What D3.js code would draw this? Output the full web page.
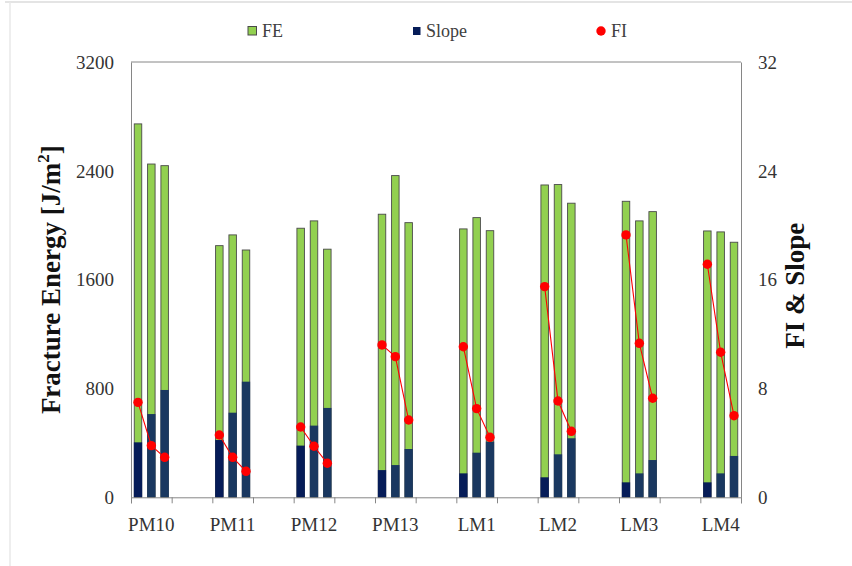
<!DOCTYPE html>
<html>
<head>
<meta charset="utf-8">
<script src="https://cdn.jsdelivr.net/npm/d3@7/dist/d3.min.js"></script>
<style>
  html, body { margin: 0; padding: 0; background: #fff; }
  svg { display: block; }
  svg text { font-family: "Liberation Serif", "DejaVu Serif", serif !important; }
</style>
</head>
<body>
<svg id="chart" width="852" height="566"></svg>
<script>
// ---- data ----
const categories = ["PM10", "PM11", "PM12", "PM13", "LM1", "LM2", "LM3", "LM4"];
const feValues = [
  [2745, 2450, 2438],
  [1850, 1929, 1818],
  [1978, 2032, 1824],
  [2081, 2365, 2019],
  [1973, 2056, 1960],
  [2296, 2299, 2162],
  [2176, 2032, 2100],
  [1958, 1951, 1875]
];
const slopeValues = [
  [4.04, 6.12, 7.89],
  [4.21, 6.22, 8.5],
  [3.8, 5.27, 6.57],
  [2.0, 2.37, 3.55],
  [1.76, 3.28, 4.09],
  [1.47, 3.16, 4.34],
  [1.1, 1.76, 2.74],
  [1.1, 1.76, 3.04]
];
const fiValues = [
  [6.98, 3.8, 2.94],
  [4.58, 2.94, 1.91],
  [5.17, 3.75, 2.5],
  [11.2, 10.34, 5.68],
  [11.07, 6.52, 4.41],
  [15.49, 7.08, 4.85],
  [19.29, 11.32, 7.28],
  [17.13, 10.66, 6.0]
];
const subKeys = ["s1", "s2", "s3"];
const leftTicks = [0, 800, 1600, 2400, 3200];
const rightTicks = [0, 8, 16, 24, 32];
const legendLabels = ["FE", "Slope", "FI"];

// ---- layout ----
const FONT = '"Liberation Serif", "DejaVu Serif", serif';
const svg = d3.select("#chart");
const L = 131, R = 741, T = 62, B = 497.3;

// frame of the original picture
svg.append("line").attr("x1", 5).attr("x2", 852).attr("y1", 2).attr("y2", 2)
  .attr("stroke", "#e4e4e4").attr("stroke-width", 2);
svg.append("line").attr("x1", 10).attr("x2", 10).attr("y1", 2).attr("y2", 566)
  .attr("stroke", "#e8e8e8").attr("stroke-width", 1.5);

// domain with gap slots between labelled categories
const slots = [];
categories.forEach((c, i) => { slots.push(c); if (i < categories.length - 1) slots.push("__gap" + i); });

const x = d3.scaleBand().domain(slots).range([L, R]).padding(0);
const xs = d3.scaleBand().domain(subKeys).range([0, x.bandwidth()])
  .paddingInner(0.4375).paddingOuter(0.244);
const yL = d3.scaleLinear().domain([0, 3200]).range([B, T]);
const yR = d3.scaleLinear().domain([0, 32]).range([B, T]);

const axisColor = "#868686";
const green = "#92d050";
const navyFirst = "#061c58";
const navy = "#1a3860";
const red = "#ff0000";

// plot box (top)
svg.append("line").attr("x1", L).attr("x2", R).attr("y1", T).attr("y2", T).attr("stroke", axisColor);

// bars
const groups = svg.append("g").selectAll("g").data(categories).join("g")
  .attr("transform", c => `translate(${x(c)},0)`);

groups.each(function (c, gi) {
  const g = d3.select(this);
  subKeys.forEach((k, si) => {
    const fe = feValues[gi][si];
    g.append("rect")
      .attr("x", xs(k)).attr("width", xs.bandwidth())
      .attr("y", yL(fe)).attr("height", B - yL(fe))
      .attr("fill", green).attr("stroke", "#4a4a4a").attr("stroke-width", 0.9);
  });
  subKeys.forEach((k, si) => {
    const s = slopeValues[gi][si];
    g.append("rect")
      .attr("x", xs(k) - 0.4).attr("width", xs.bandwidth() + 0.8)
      .attr("y", yR(s)).attr("height", B - yR(s))
      .attr("fill", si === 0 ? navyFirst : navy);
  });
});

// FI line + dots
categories.forEach((c, gi) => {
  const pts = subKeys.map((k, si) => [x(c) + xs(k) + xs.bandwidth() / 2, yR(fiValues[gi][si])]);
  svg.append("path").attr("d", d3.line()(pts)).attr("fill", "none").attr("stroke", red).attr("stroke-width", 1.1);
  svg.append("g").selectAll("circle").data(pts).join("circle")
    .attr("cx", d => d[0]).attr("cy", d => d[1]).attr("r", 4.7).attr("fill", red);
});

// ---- axes ----
const yAxisL = svg.append("g").attr("transform", `translate(${L},0)`)
  .call(d3.axisLeft(yL).tickValues(leftTicks).tickSize(0).tickPadding(17).tickFormat(d3.format("d")));
const yAxisR = svg.append("g").attr("transform", `translate(${R},0)`)
  .call(d3.axisRight(yR).tickValues(rightTicks).tickSize(0).tickPadding(17).tickFormat(d3.format("d")));

// category boundary ticks
const xb = d3.scaleLinear().domain([0, slots.length]).range([L, R]);
const xAxisTicks = svg.append("g").attr("transform", `translate(0,${B})`)
  .call(d3.axisBottom(xb).tickValues(d3.range(0, slots.length + 1)).tickSize(6).tickFormat(""));
const xAxisLabels = svg.append("g").attr("transform", `translate(0,${B})`)
  .call(d3.axisBottom(x).tickSize(0).tickPadding(20).tickFormat(d => d.startsWith("__gap") ? "" : d));

[yAxisL, yAxisR, xAxisTicks, xAxisLabels].forEach(a => {
  a.attr("font-family", FONT);
  a.select(".domain").attr("stroke", axisColor);
  a.selectAll(".tick line").attr("stroke", axisColor);
  a.selectAll("text").style("font-family", FONT)
    .attr("font-size", 19).attr("fill", "#333");
});
xAxisLabels.select(".domain").remove();
yAxisL.selectAll("text").attr("dy", "0.33em");
yAxisR.selectAll("text").attr("dy", "0.33em");

// ---- axis titles ----
const lt = svg.append("text")
  .attr("transform", `translate(60,${(T + B) / 2}) rotate(-90)`)
  .style("font-family", FONT)
  .attr("text-anchor", "middle").attr("font-size", 27).attr("font-weight", "bold").attr("fill", "#111");
lt.append("tspan").text("Fracture Energy [J/m");
lt.append("tspan").text("2").attr("font-size", 17).attr("dy", -11);
lt.append("tspan").text("]").attr("dy", 11);

svg.append("text")
  .attr("transform", `translate(803.5,${(T + B) / 2 + 6}) rotate(-90)`)
  .style("font-family", FONT)
  .attr("text-anchor", "middle").attr("font-size", 27).attr("font-weight", "bold").attr("fill", "#111")
  .text("FI & Slope");

// ---- legend ----
const lg = svg.append("g").style("font-family", FONT);
const legY = 31;
lg.append("rect").attr("x", 248).attr("y", legY - 4.5).attr("width", 8.5).attr("height", 8.5)
  .attr("fill", green).attr("stroke", "#4a4a4a").attr("stroke-width", 1);
lg.append("text").attr("x", 262).attr("y", legY + 6).attr("font-size", 18).attr("fill", "#404040").style("font-family", FONT).text(legendLabels[0]);
lg.append("rect").attr("x", 413).attr("y", legY - 4).attr("width", 7.5).attr("height", 8)
  .attr("fill", navyFirst);
lg.append("text").attr("x", 426).attr("y", legY + 6).attr("font-size", 18).attr("fill", "#404040").style("font-family", FONT).text(legendLabels[1]);
lg.append("circle").attr("cx", 601).attr("cy", legY).attr("r", 4.7).attr("fill", red);
lg.append("text").attr("x", 611).attr("y", legY + 6).attr("font-size", 18).attr("fill", "#404040").style("font-family", FONT).text(legendLabels[2]);
</script>
</body>
</html>
